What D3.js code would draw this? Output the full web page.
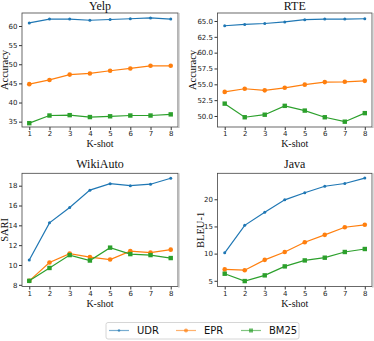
<!DOCTYPE html>
<html><head><meta charset="utf-8">
<script src="https://cdn.jsdelivr.net/npm/d3@7"></script>
<style>
body{margin:0;background:#fff;}
svg{display:block;}
.tick text{font-family:"DejaVu Sans",sans-serif;font-size:7px;fill:#222;}
.tick line{stroke:#333;}
.serif{font-family:"Liberation Serif","Times New Roman",serif;fill:#111;}
</style></head><body>
<svg id="c" width="374" height="341"></svg>
<script>
const kshot = [1,2,3,4,5,6,7,8];
const seriesNames = ["UDR","EPR","BM25"];
const colors = ["#1f77b4","#ff7f0e","#2ca02c"];

const yelpUDR  = [60.8,61.8,61.8,61.5,61.7,61.9,62.1,61.8];
const yelpEPR  = [44.8,45.9,47.3,47.6,48.3,48.9,49.6,49.6];
const yelpBM25 = [34.6,36.6,36.7,36.2,36.4,36.6,36.6,36.9];

const rteUDR  = [64.25,64.45,64.6,64.85,65.2,65.3,65.3,65.35];
const rteEPR  = [53.8,54.3,54.05,54.45,54.95,55.35,55.4,55.55];
const rteBM25 = [51.95,49.8,50.2,51.6,50.85,49.8,49.1,50.45];

const wikiUDR  = [10.5,14.25,15.8,17.55,18.2,18.0,18.15,18.75];
const wikiEPR  = [8.4,10.25,11.15,10.8,10.55,11.4,11.25,11.55];
const wikiBM25 = [8.4,9.7,11.0,10.45,11.75,11.1,11.0,10.7];

const javaUDR  = [10.15,15.2,17.6,19.9,21.2,22.4,22.9,23.9];
const javaEPR  = [7.1,6.95,8.85,10.3,12.1,13.45,14.85,15.3];
const javaBM25 = [6.3,4.95,6.0,7.65,8.75,9.25,10.3,10.85];

const yelpTicks = [35,40,45,50,55,60];
const rteTicks = [50,52.5,55,57.5,60,62.5,65];
const wikiTicks = [8,10,12,14,16,18];
const javaTicks = [5,10,15,20];

const panels = [
  {title:"Yelp", ylab:"Accuracy", data:[yelpUDR,yelpEPR,yelpBM25], ticks:yelpTicks, fmt:d3.format("d"),
   box:[22,178,13,127], dom:[33.6,63.4], tY:10, ylx:4},
  {title:"RTE", ylab:"Accuracy", data:[rteUDR,rteEPR,rteBM25], ticks:rteTicks, fmt:d3.format(".1f"),
   box:[217.5,372,13,127], dom:[48.26,66.26], tY:10, ylx:192},
  {title:"WikiAuto", ylab:"SARI", data:[wikiUDR,wikiEPR,wikiBM25], ticks:wikiTicks, fmt:d3.format("d"),
   box:[22,178,173.3,286.5], dom:[7.83,19.25], tY:167.5, ylx:4},
  {title:"Java", ylab:"BLEU-1", data:[javaUDR,javaEPR,javaBM25], ticks:javaTicks, fmt:d3.format("d"),
   box:[217.5,372,173.3,286.5], dom:[3.95,24.78], tY:167.5, ylx:200}
];

const svg = d3.select("#c");

panels.forEach(p => {
  const [l,r,t,b] = p.box;
  const x = d3.scaleLinear().domain([0.64,8.36]).range([l,r]);
  const y = d3.scaleLinear().domain(p.dom).range([b,t]);
  const g = svg.append("g");

  const xa = g.append("g").attr("transform",`translate(0,${b})`)
    .call(d3.axisBottom(x).tickValues(kshot).tickSize(3).tickPadding(1.5).tickFormat(d3.format("d")));
  const ya = g.append("g").attr("transform",`translate(${l},0)`)
    .call(d3.axisLeft(y).tickValues(p.ticks).tickSize(3).tickPadding(1.5).tickFormat(p.fmt));
  [xa,ya].forEach(a=>{a.select(".domain").remove();});

  const line = d3.line().x((d,i)=>x(kshot[i])).y(d=>y(d));
  p.data.forEach((vals,si)=>{
    g.append("path").datum(vals).attr("d",line).attr("fill","none")
      .attr("stroke",colors[si]).attr("stroke-width",1.2);
    const pts = g.append("g");
    vals.forEach((v,i)=>{
      const cx = x(kshot[i]), cy = y(v);
      if(si===0) pts.append("circle").attr("cx",cx).attr("cy",cy).attr("r",1.5).attr("fill",colors[si]);
      else if(si===1) pts.append("circle").attr("cx",cx).attr("cy",cy).attr("r",2.3).attr("fill",colors[si]);
      else pts.append("rect").attr("x",cx-2.2).attr("y",cy-2.2).attr("width",4.4).attr("height",4.4).attr("fill",colors[si]);
    });
  });

  g.append("rect").attr("x",l).attr("y",t).attr("width",r-l).attr("height",b-t)
    .attr("fill","none").attr("stroke","#444").attr("stroke-width",0.8);
  g.append("line").attr("x1",r+0.8).attr("x2",r+0.8).attr("y1",t).attr("y2",b+1)
    .attr("stroke","#bbb").attr("stroke-width",1.5);

  g.append("text").attr("class","serif").attr("x",(l+r)/2).attr("y",p.tY)
    .attr("text-anchor","middle").attr("font-size",12).text(p.title);
  g.append("text").attr("class","serif").attr("x",(l+r)/2).attr("y",b+20)
    .attr("text-anchor","middle").attr("font-size",10).text("K-shot");
  g.append("text").attr("class","serif")
    .attr("transform",`translate(${p.ylx},${(t+b)/2}) rotate(-90)`)
    .attr("text-anchor","middle").attr("dominant-baseline","central").attr("font-size",10.5).text(p.ylab);
});

// legend
const lg = svg.append("g");
lg.append("rect").attr("x",106).attr("y",322.5).attr("width",193).attr("height",16.5).attr("rx",2)
  .attr("fill","#fff").attr("stroke","#ccc").attr("stroke-width",0.8);
const lx = [109,176,241];
seriesNames.forEach((n,i)=>{
  const y0 = 330.5;
  lg.append("line").attr("x1",lx[i]).attr("x2",lx[i]+20).attr("y1",y0).attr("y2",y0)
    .attr("stroke",colors[i]).attr("stroke-width",1.2).attr("opacity",0.6);
  const cx = lx[i]+10;
  if(i===0) lg.append("circle").attr("cx",cx).attr("cy",y0).attr("r",1.3).attr("fill",colors[i]).attr("opacity",0.7);
  else if(i===1) lg.append("circle").attr("cx",cx).attr("cy",y0).attr("r",2).attr("fill",colors[i]).attr("opacity",0.7);
  else lg.append("rect").attr("x",cx-2).attr("y",y0-2).attr("width",4).attr("height",4).attr("fill",colors[i]).attr("opacity",0.7);
  lg.append("text").attr("x",lx[i]+28).attr("y",y0).attr("dominant-baseline","central")
    .attr("font-family","DejaVu Sans, sans-serif").attr("font-size",10).attr("fill","#111").text(n);
});
</script></body></html>
